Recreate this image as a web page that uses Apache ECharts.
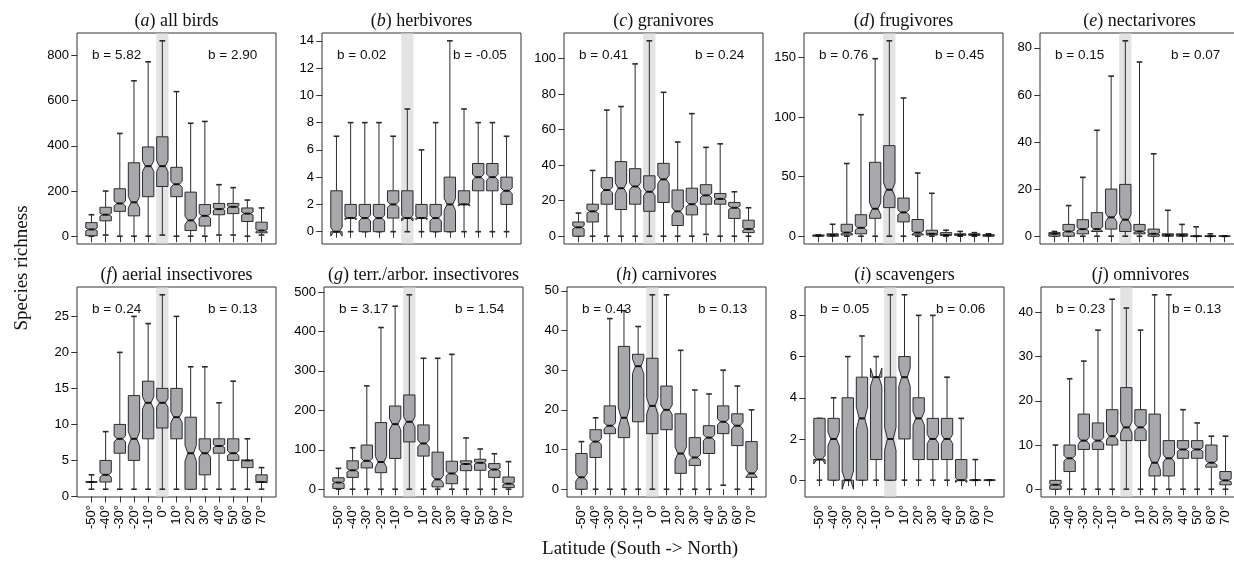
<!DOCTYPE html>
<html><head><meta charset="utf-8">
<script src="https://cdn.jsdelivr.net/npm/echarts@6/dist/echarts.min.js"></script>
<style>html,body{margin:0;padding:0;background:#fff}#c{width:1234px;height:572px}</style>
</head><body><div id="c"></div>
<script>
// ---- data: each box = [lower whisker, Q1, median, Q3, upper whisker] ----
const latitudes = ['-50°','-40°','-30°','-20°','-10°','0°','10°','20°','30°','40°','50°','60°','70°'];
const allBirds = [[0,2,30,60,95],[5,68,95,128,200],[0,110,145,210,455],[0,90,150,325,688],[0,175,310,395,772],[5,220,310,440,865],[0,175,230,305,640],[0,25,70,195,500],[0,45,90,140,508],[5,95,120,145,228],[5,100,130,145,215],[0,65,100,125,160],[5,15,25,62,125]];
const herbivores = [[0,0,0,3,7],[0,1,1,2,8],[0,0,1,2,8],[0,0,1,2,8],[0,1,2,3,7],[0,1,1,3,9],[0,1,1,2,6],[0,0,1,2,8],[0,0,2,4,14],[0,2,2,3,9],[0,3,4,5,8],[0,3,4,5,8],[0,2,3,4,7]];
const granivores = [[0,0,5,8,13],[0,8,14,18,37],[0,18,26,33,71],[0,15,27,42,73],[0,18,28,38,97],[0,14,25,34,110],[0,19,32,41,81],[0,6,14,26,53],[0,12,18,27,69],[1,18,23,29,50],[0,18,21,24,52],[0,10,16,19,25],[0,2,4,9,16]];
const frugivores = [[0,0,0.5,1,1],[0,0,1,2,10],[0,1,3,10,61],[0,2,7,18,102],[0,15,23,62,149],[0,24,39,76,164],[0,12,20,32,116],[0,1,3,14,53],[0,1,2,5,36],[0,1,1,3,5],[0,1,1,2,4],[0,1,1,2,3],[0,0,1,1,2]];
const nectarivores = [[0,0,1,1.5,2],[0,0,2,5,13],[0,1,3,7,25],[0,2,3,10,45],[0,3,8,20,68],[0,2,7,22,83],[0,1,2,5,74],[0,0,1,3,35],[0,0,0.5,1,11],[0,0,0.5,1,5],[0,0,0,0,4],[0,0,0,0,1],[0,0,0,0,0]];
const aerialInsectivores = [[1,2,2,2,3],[1,2,3,5,9],[1,6,8,10,20],[1,5,8,14,25],[1,8,13,16,24],[1,9.5,13,15,28],[1,8,11,15,25],[1,1,6,11,18],[1,3,6,8,18],[1,6,7,8,13],[1,5,6,8,16],[1,4,5,5,8],[1,2,2,3,4]];
const terrArborInsectivores = [[0,2,17,29,53],[0,30,48,72,105],[0,54,72,112,262],[0,42,69,169,410],[0,78,165,211,464],[0,120,171,239,493],[0,84,116,163,332],[0,6,25,94,332],[0,14,40,71,342],[0,47,64,72,130],[0,48,67,76,102],[0,30,50,65,90],[0,4,14,31,70]];
const carnivores = [[0,0,3,9,12],[0,8,12,15,18],[0,14,16,21,43],[0,13,18,36,45],[0,17,31,34,41],[0,14,21,33,49],[0,15,20,26,49],[0,4,9,19,35],[0,6,8,13,25],[0,9,13,16,24],[1,14,17,21,30],[0,11,16,19,26],[0,3,4,12,20]];
const scavengers = [[0,1,1,3,3],[0,0,2,3,4],[0,0,0,4,6],[0,0,3,5,7],[0,1,5,5,6],[0,0,2,5,9],[0,2,5,6,9],[0,1,3,4,8],[0,1,2,3,8],[0,1,2,3,5],[0,0,0,1,3],[0,0,0,0,1],[0,0,0,0,0]];
const omnivores = [[0,0,1,2,10],[0,4,7,10,25],[0,9,11,17,29],[0,9,11,15,36],[0,10,12,18,43],[0,11,14,23,41],[0,11,14,18,36],[0,3,6,17,44],[0,3,7,11,44],[0,7,9,11,18],[0,7,9,11,15],[0,5,6,10,12],[0,1,2,4,12]];

const panelLetters = ['a','b','c','d','e','f','g','h','i','j'];
const panelNames = ['all birds','herbivores','granivores','frugivores','nectarivores','aerial insectivores','terr./arbor. insectivores','carnivores','scavengers','omnivores'];
const panelData = [allBirds, herbivores, granivores, frugivores, nectarivores, aerialInsectivores, terrArborInsectivores, carnivores, scavengers, omnivores];
const slopesSouth = ['5.82','0.02','0.41','0.76','0.15','0.24','3.17','0.43','0.05','0.23'];
const slopesNorth = ['2.90','-0.05','0.24','0.45','0.07','0.13','1.54','0.13','0.06','0.13'];
const yTicks = [
  [0,200,400,600,800],[0,2,4,6,8,10,12,14],[0,20,40,60,80,100],[0,50,100,150],[0,20,40,60,80],
  [0,5,10,15,20,25],[0,100,200,300,400,500],[0,10,20,30,40,50],[0,2,4,6,8],[0,10,20,30,40]
];
const equatorLabel = '0°';

// ---- layout (styles / positions) ----
const gridLefts = [77,322,564,804,1040, 77,324,567,805,1041];
const rowTop = [33, 287];
const rowHeight = [211, 210];
const gridWidth = 199;
const NOTCH = 0.11;
const SANS = 'Liberation Sans, Arial, sans-serif';
const SERIF = 'Liberation Serif, Times New Roman, serif';

const xPos = latitudes.map((_, i) => i + 1);
const eqPos = latitudes.indexOf(equatorLabel) + 1;

function renderBox(params, api) {
  const x = api.value(0), mn = api.value(1), q1 = api.value(2), md = api.value(3), q3 = api.value(4), mx = api.value(5);
  const nf = NOTCH * (q3 - q1);
  const nlo = md - nf, nhi = md + nf;
  const halfW = api.size([0.8, 0])[0] / 2;
  const cap = api.size([0.4, 0])[0] / 2;
  const c = api.coord([x, 0])[0];
  const Y = v => api.coord([x, v])[1];
  const xl = c - halfW, xr = c + halfW, ins = halfW * 0.5;
  const stroke = '#2b2b2b';
  const children = [
    {type:'line', shape:{x1:c, y1:Y(q3), x2:c, y2:Y(mx)}, style:{stroke, lineWidth:1}},
    {type:'line', shape:{x1:c, y1:Y(q1), x2:c, y2:Y(mn)}, style:{stroke, lineWidth:1}},
    {type:'line', shape:{x1:c-cap, y1:Y(mx), x2:c+cap, y2:Y(mx)}, style:{stroke, lineWidth:1.6}},
    {type:'line', shape:{x1:c-cap, y1:Y(mn), x2:c+cap, y2:Y(mn)}, style:{stroke, lineWidth:1.6}},
    {type:'polygon', shape:{points:[[xl,Y(q1)],[xl,Y(nlo)],[xl+ins,Y(md)],[xl,Y(nhi)],[xl,Y(q3)],[xr,Y(q3)],[xr,Y(nhi)],[xr-ins,Y(md)],[xr,Y(nlo)],[xr,Y(q1)]]},
      style:{fill:'#a7a8ab', stroke, lineWidth:1}},
    {type:'line', shape:{x1:xl+ins, y1:Y(md), x2:xr-ins, y2:Y(md)}, style:{stroke:'#111', lineWidth:2}}
  ];
  return {type:'group', children};
}
function renderBand(params, api) {
  const cs = params.coordSys;
  const x1 = api.coord([api.value(0) - 0.43, 0])[0];
  const x2 = api.coord([api.value(0) + 0.43, 0])[0];
  return {type:'rect', shape:{x:x1, y:cs.y + 0.5, width:x2 - x1, height:cs.height - 1}, style:{fill:'#e3e3e5'}};
}

const grid = [], xAxis = [], yAxis = [], series = [], graphic = [];
panelData.forEach((boxes, p) => {
  const row = p < 5 ? 0 : 1;
  const left = gridLefts[p], top = rowTop[row], h = rowHeight[row];
  let lo = Infinity, hi = -Infinity;
  boxes.forEach(b => {
    const nf = NOTCH * (b[3] - b[1]);
    lo = Math.min(lo, b[0], b[2] - nf);
    hi = Math.max(hi, b[4], b[2] + nf);
  });
  const pad = 0.04 * (hi - lo);
  grid.push({left, top, width:gridWidth, height:h, show:true, borderColor:'#333', borderWidth:1, backgroundColor:'transparent', containLabel:false, outerBoundsMode:'none'});
  xAxis.push({
    type:'value', gridIndex:p, min:-0.02, max:14.02,
    axisLine:{show:false}, splitLine:{show:false},
    axisTick:{show:true, length:6, customValues:xPos, lineStyle:{color:'#333', width:1}},
    axisLabel:{show: row === 1, customValues:xPos, rotate:90, margin:8, fontSize:13, color:'#000', fontFamily:SANS,
      formatter: v => latitudes[Math.round(v) - 1] || ''}
  });
  yAxis.push({
    type:'value', gridIndex:p, min:lo - pad, max:hi + pad,
    axisLine:{show:false}, splitLine:{show:false},
    axisTick:{show:true, length:6, customValues:yTicks[p], lineStyle:{color:'#333', width:1}},
    axisLabel:{show:true, customValues:yTicks[p], margin:8, fontSize:13, color:'#000', fontFamily:SANS}
  });
  series.push({type:'custom', xAxisIndex:p, yAxisIndex:p, z:1, silent:true, clip:false,
    renderItem:renderBand, encode:{x:0, y:1}, data:[[eqPos, 0]]});
  series.push({type:'custom', xAxisIndex:p, yAxisIndex:p, z:2, silent:true, clip:false,
    renderItem:renderBox, encode:{x:0, y:[1,2,3,4,5]},
    data: boxes.map((b, i) => [xPos[i]].concat(b))});
  const titleY = row === 0 ? 21 : 275;
  graphic.push({type:'text', silent:true, style:{
    text:'{n|(}{i|' + panelLetters[p] + '}{n|) ' + panelNames[p] + '}',
    x:left + gridWidth / 2, y:titleY, align:'center', verticalAlign:'middle', textAlign:'center', textVerticalAlign:'middle',
    rich:{n:{fontFamily:SERIF, fontSize:18, fill:'#111'}, i:{fontFamily:SERIF, fontSize:18, fontStyle:'italic', fill:'#111'}}
  }});
  graphic.push({type:'text', silent:true, style:{
    text:'b = ' + slopesSouth[p], x:left + 15, y:top + 22, align:'left', verticalAlign:'middle', textAlign:'left', textVerticalAlign:'middle',
    font:'13.5px ' + SANS, fill:'#111'}});
  graphic.push({type:'text', silent:true, style:{
    text:'b = ' + slopesNorth[p], x:left + 131, y:top + 22, align:'left', verticalAlign:'middle', textAlign:'left', textVerticalAlign:'middle',
    font:'13.5px ' + SANS, fill:'#111'}});
});
graphic.push({type:'text', silent:true, rotation:Math.PI / 2, x:22, y:268, style:{
  text:'Species richness', x:0, y:0, align:'center', verticalAlign:'middle', textAlign:'center', textVerticalAlign:'middle',
  font:'19px ' + SERIF, fill:'#111'}});
graphic.push({type:'text', silent:true, style:{
  text:'Latitude (South -> North)', x:640, y:549, align:'center', verticalAlign:'middle', textAlign:'center', textVerticalAlign:'middle',
  font:'19px ' + SERIF, fill:'#111'}});

const chart = echarts.init(document.getElementById('c'), null, {renderer:'canvas'});
chart.setOption({animation:false, backgroundColor:'#fff', grid, xAxis, yAxis, series, graphic});
</script></body></html>
